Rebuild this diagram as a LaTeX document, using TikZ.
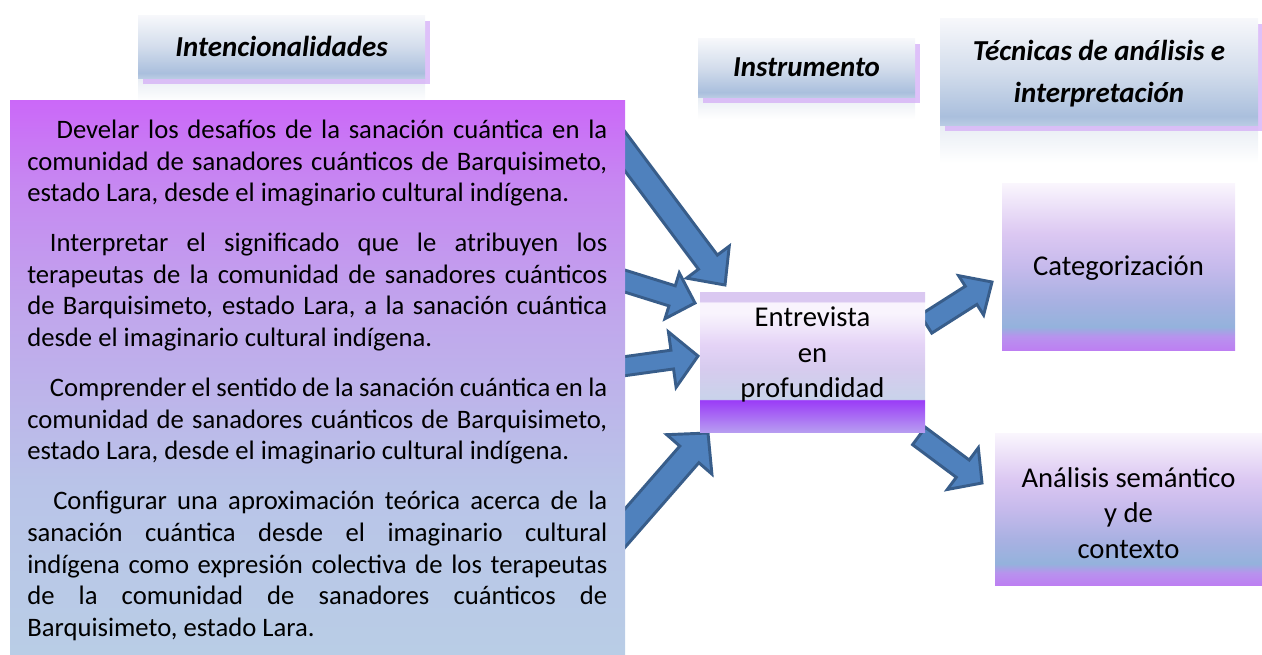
\documentclass[tikz,border=0pt]{standalone}
\usepackage{fontspec}
\setmainfont{Carlito}
\usetikzlibrary{calc, fit, backgrounds, positioning, shadows}

\definecolor{azulflecha}{HTML}{4F81BD}
\definecolor{azulborde}{HTML}{385D8A}
\definecolor{lilasombra}{HTML}{D6B2F7}
\colorlet{colFlecha}{azulflecha}
\colorlet{colBordeFlecha}{azulborde}
\colorlet{colSombra}{lilasombra}

% tonos de los degradados
\definecolor{cabA}{HTML}{B9CBE3}
\definecolor{cabB}{HTML}{AABFDD}
\definecolor{cabC}{HTML}{D3DDEC}
\definecolor{cabD}{HTML}{F7F8FB}
\definecolor{refA}{HTML}{E8EDF4}
\definecolor{objA}{HTML}{B9CDE6}
\definecolor{objB}{HTML}{B9C4E8}
\definecolor{objC}{HTML}{C0A8EC}
\definecolor{objD}{HTML}{C689F1}
\definecolor{objE}{HTML}{CB68F8}
\definecolor{entA}{HTML}{B79CF1}
\definecolor{entB}{HTML}{9A3BF7}
\definecolor{entC}{HTML}{C9D3EA}
\definecolor{entD}{HTML}{D6CBEE}
\definecolor{entE}{HTML}{E4D3F6}
\definecolor{entF}{HTML}{F9F4FD}
\definecolor{entG}{HTML}{DAC8F1}
\definecolor{tecA}{HTML}{BD7FF2}
\definecolor{tecB}{HTML}{B892EE}
\definecolor{tecC}{HTML}{94B2DC}
\definecolor{tecD}{HTML}{A9B1E2}
\definecolor{tecE}{HTML}{C6BAEC}
\definecolor{tecF}{HTML}{DCC8F2}
\definecolor{tecG}{HTML}{FAF6FD}

% degradados verticales (25bp = abajo, 75bp = arriba)
\pgfdeclareverticalshading{degCabecera}{100bp}{%
  color(0bp)=(cabA); color(25bp)=(cabA); color(29bp)=(cabB);
  color(50bp)=(cabC); color(75bp)=(cabD); color(100bp)=(cabD)}
\pgfdeclareverticalshading{degReflejo}{100bp}{%
  color(0bp)=(white); color(25bp)=(white); color(75bp)=(refA); color(100bp)=(refA)}
\pgfdeclareverticalshading{degObjetivos}{100bp}{%
  color(0bp)=(objA); color(25bp)=(objA); color(40bp)=(objB); color(55bp)=(objC);
  color(67bp)=(objD); color(75bp)=(objE); color(100bp)=(objE)}
\pgfdeclareverticalshading{degEntrevista}{100bp}{%
  color(0bp)=(entA); color(25bp)=(entA); color(36.4bp)=(entB); color(36.8bp)=(entC);
  color(47.5bp)=(entD); color(56bp)=(entE); color(67.5bp)=(entF); color(71.2bp)=(entF);
  color(71.7bp)=(entG); color(75bp)=(entG); color(100bp)=(entG)}
\pgfdeclareverticalshading{degTecnica}{100bp}{%
  color(0bp)=(tecA); color(25bp)=(tecA); color(29bp)=(tecB); color(32bp)=(tecC);
  color(40bp)=(tecD); color(50bp)=(tecE); color(60bp)=(tecF); color(75bp)=(tecG);
  color(100bp)=(tecG)}

\tikzset{
  cajaBase/.style={inner sep=0pt, outer sep=0pt},
  cajaCabecera/.style={cajaBase, shade, shading=degCabecera,
    drop shadow={shadow xshift=3.75pt, shadow yshift=-4.5pt, fill=colSombra, opacity=0.8}},
  cajaObjetivos/.style={cajaBase, shade, shading=degObjetivos},
  cajaEntrevista/.style={cajaBase, shade, shading=degEntrevista},
  cajaTecnica/.style={cajaBase, shade, shading=degTecnica},
  reflejo/.style={shade, shading=degReflejo},
  textoCabecera/.style={inner sep=0pt, font=\fontsize{21.7}{32}\selectfont\bfseries\itshape, align=center},
  textoCaja/.style={inner sep=0pt, font=\fontsize{21.5}{26.5}\selectfont, align=center},
  textoObjetivos/.style={inner sep=0pt, text width=435pt, align=justify,
    font=\fontsize{20}{23.8}\selectfont},
  flechaAzul/.style={fill=colFlecha, draw=colBordeFlecha, line width=2.2pt, line join=miter},
}

% flecha de bloque: inicio, punta, media caña, media cabeza, largo cabeza
\newcommand{\flechaBloque}[5]{%
  \coordinate (fbIni) at (#1);
  \coordinate (fbFin) at (#2);
  \coordinate (fbBase) at ($(fbFin)!#5!(fbIni)$);
  \draw[flechaAzul] ($(fbIni)!#3!90:(fbFin)$) -- ($(fbBase)!#3!90:(fbFin)$)
    -- ($(fbBase)!#4!90:(fbFin)$) -- (fbFin) -- ($(fbBase)!#4!-90:(fbFin)$)
    -- ($(fbBase)!#3!-90:(fbFin)$) -- ($(fbIni)!#3!-90:(fbFin)$) -- cycle;
}

\begin{document}
\begin{tikzpicture}[x=0.75pt, y=-0.75pt]
  \useasboundingbox (0,0) rectangle (1262,654);

  % Cabeceras
  \node[cajaCabecera, fit={(138,15) (425,78)}] (cabIntenc) {};
  \node[cajaCabecera, fit={(698,38) (915,97)}] (cabInstr) {};
  \node[cajaCabecera, fit={(940,18) (1258,125)}] (cabTecnicas) {};
  \node[textoCabecera] (txtIntenc) at (cabIntenc.center) {Intencionalidades};
  \node[textoCabecera] (txtInstr) at (cabInstr.center) {Instrumento};
  \node[textoCabecera] (txtTecnicas) at ([yshift=-1.5pt]cabTecnicas.center) {Técnicas de análisis e\\interpretación};

  % Intencionalidades
  \node[cajaObjetivos, fit={(10,100) (625,654)}] (objetivos) {};
  \node[textoObjetivos, anchor=north west] (txtObjetivos) at ([shift={(17,19.5)}]objetivos.north west) {%
    \setlength{\parskip}{13.5pt}%
    \noindent\hspace*{22pt}Develar los desafíos de la sanación cuántica en la\linebreak
    comunidad de sanadores cuánticos de Barquisimeto,\linebreak
    estado Lara, desde el imaginario cultural indígena.\par
    \noindent\hspace*{17pt}Interpretar el significado que le atribuyen los\linebreak
    terapeutas de la comunidad de sanadores cuánticos\linebreak
    de Barquisimeto, estado Lara, a la sanación cuántica\linebreak
    desde el imaginario cultural indígena.\par
    \noindent\hspace*{17pt}Comprender el sentido de la sanación cuántica en la\linebreak
    comunidad de sanadores cuánticos de Barquisimeto,\linebreak
    estado Lara, desde el imaginario cultural indígena.\par
    \noindent\hspace*{19.5pt}Configurar una aproximación teórica acerca de la\linebreak
    sanación cuántica desde el imaginario cultural\linebreak
    indígena como expresión colectiva de los terapeutas\linebreak
    de la comunidad de sanadores cuánticos de\linebreak
    Barquisimeto, estado Lara.\par};

  % Instrumento
  \node[cajaEntrevista, fit={(700,292) (925,432)}] (entrevista) {};
  \node[textoCaja] (txtEntrevista) at ([yshift=5.5pt]entrevista.center) {Entrevista\\en\\profundidad};

  % Tecnicas
  \node[cajaTecnica, fit={(1002,183) (1235,350)}] (categorizacion) {};
  \node[textoCaja] (txtCategorizacion) at ([yshift=-1.5pt]categorizacion.center) {Categorización};
  \node[cajaTecnica, fit={(995,433) (1262,585)}] (analisis) {};
  \node[textoCaja] (txtAnalisis) at ([yshift=-3pt]analisis.center) {Análisis semántico\\y de\\contexto};

  \begin{scope}[on background layer]
    \path[reflejo] (cabIntenc.south west) rectangle ([shift={(0,24)}]cabIntenc.south east);
    \path[reflejo] (cabInstr.south west) rectangle ([shift={(0,22)}]cabInstr.south east);
    \path[reflejo] (cabTecnicas.south west) rectangle ([shift={(0,38)}]cabTecnicas.south east);

    \coordinate (f1ini) at ([shift={(-10,38)}]objetivos.north east);
    \coordinate (f1fin) at ([shift={(25,-7)}]entrevista.north west);
    \coordinate (f2ini) at ([shift={(-10,178)}]objetivos.north east);
    \coordinate (f2fin) at ([shift={(-5,11)}]entrevista.north west);
    \coordinate (f3ini) at ([shift={(-10,267.5)}]objetivos.north east);
    \coordinate (f3fin) at ([shift={(-2,-6)}]entrevista.west);
    \coordinate (f4ini) at ([shift={(-10,439.5)}]objetivos.north east);
    \coordinate (f4fin) at ([shift={(8,1)}]entrevista.south west);
    \coordinate (f5ini) at ([shift={(1,-38)}]entrevista.east);
    \coordinate (f5fin) at ([shift={(-10,15.5)}]categorizacion.west);
    \coordinate (f6ini) at ([shift={(-6,4)}]entrevista.south east);
    \coordinate (f6fin) at ([shift={(-13,-26)}]analisis.west);

    \flechaBloque{f1ini}{f1fin}{8.85pt}{20pt}{21.4pt}
    \flechaBloque{f2ini}{f2fin}{7.9pt}{18pt}{18pt}
    \flechaBloque{f3ini}{f3fin}{7.1pt}{21pt}{19.5pt}
    \flechaBloque{f4ini}{f4fin}{9.5pt}{22.5pt}{21.3pt}
    \flechaBloque{f5ini}{f5fin}{8.1pt}{17.5pt}{18.6pt}
    \flechaBloque{f6ini}{f6fin}{8.1pt}{19.5pt}{18pt}
  \end{scope}
\end{tikzpicture}
\end{document}
